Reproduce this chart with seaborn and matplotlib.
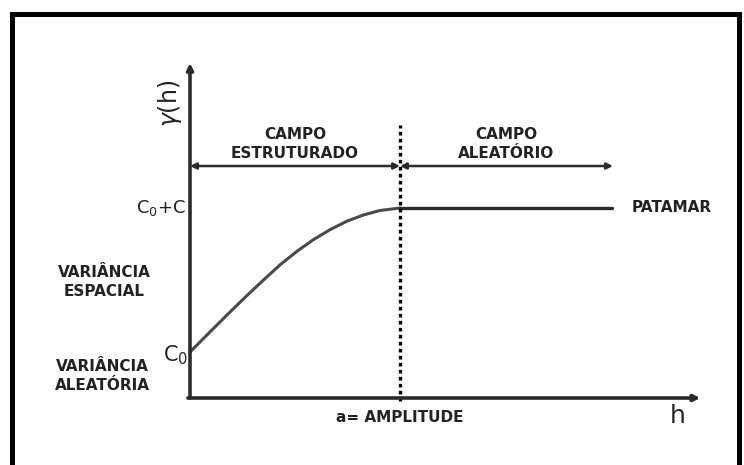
import numpy as np
import pandas as pd
import matplotlib
matplotlib.use("Agg")
import matplotlib.pyplot as plt
from matplotlib.lines import Line2D
import seaborn as sns

# ---- data (units: range a = 1, sill C0+C = 1) ----
lag = [0.0, 0.111, 0.190, 0.270, 0.349, 0.429, 0.508, 0.587, 0.667, 0.746, 0.825, 0.905, 1.0]
gamma = [0.242, 0.365, 0.452, 0.538, 0.620, 0.701, 0.771, 0.833, 0.886, 0.930, 0.963, 0.987, 1.0]
sill_lag = [1.0, 2.01]
sill_gamma = [1.0, 1.0]
nugget = 0.242
sill = 1.0
range_a = 1.0
x_axis_end = 2.43
y_axis_end = 1.763
field_level = 1.221
field_end = 2.014

# ---- layout helpers (pixel -> data) ----
def X(px):
    return (px - 190) / 210.0

def Y(py):
    return (398 - py) / 190.0

sns.set_theme(style="white")
plt.rcParams["font.family"] = ["DejaVu Sans"]

fig = plt.figure(figsize=(7.44, 4.65), dpi=100)
ax = fig.add_axes([0, 0, 1, 1])
ax.set_xlim(X(0), X(744))
ax.set_ylim(Y(465), Y(0))
ax.axis("off")

# frame
W, H = 744.0, 465.0
fig.add_artist(Line2D([11.5 / W, 11.5 / W, 738.5 / W, 738.5 / W],
                      [-0.05, 1 - 14.5 / H, 1 - 14.5 / H, -0.05],
                      color="black", lw=3.6, solid_joinstyle="miter",
                      transform=fig.transFigure))

dark = "#2b2b2b"

# axes with arrows
ax.annotate("", xy=(0, y_axis_end), xytext=(0, 0),
            arrowprops=dict(arrowstyle="-|>", lw=2.6, color=dark,
                            mutation_scale=9, shrinkA=0, shrinkB=0))
ax.annotate("", xy=(x_axis_end, 0), xytext=(-0.01, 0),
            arrowprops=dict(arrowstyle="-|>", lw=2.6, color=dark,
                            mutation_scale=9, shrinkA=0, shrinkB=0))

# variogram curve and sill
sns.lineplot(x=lag, y=gamma, ax=ax, color="#4a4a4a", lw=2.2, sort=False)
sns.lineplot(x=sill_lag, y=sill_gamma, ax=ax, color=dark, lw=2.4)

# range dotted line
ax.plot([range_a, range_a], [Y(401), Y(125)], color="black", lw=2.4,
        linestyle=(0, (1.1, 1.0)), solid_capstyle="butt")

# field arrows
ax.annotate("", xy=(0, field_level), xytext=(range_a, field_level),
            arrowprops=dict(arrowstyle="<|-|>", lw=1.8, color=dark,
                            mutation_scale=9, shrinkA=0, shrinkB=0))
ax.annotate("", xy=(field_end, field_level), xytext=(range_a, field_level),
            arrowprops=dict(arrowstyle="<|-|>", lw=1.8, color=dark,
                            mutation_scale=9, shrinkA=0, shrinkB=0))

tk = dict(color="#222222", fontweight="bold", fontsize=11)
ax.text(X(295), Y(144), "CAMPO\nESTRUTURADO", ha="center", va="center",
        linespacing=1.4, **tk)
ax.text(X(506), Y(144), "CAMPO\nALEATÓRIO", ha="center", va="center",
        linespacing=1.4, **tk)
ax.text(X(632), sill, "PATAMAR", ha="left", va="center", **tk)
ax.text(X(104), Y(282), "VARIÂNCIA\nESPACIAL", ha="center", va="center",
        linespacing=1.3, **tk)
ax.text(X(102), Y(376), "VARIÂNCIA\nALEATÓRIA", ha="center", va="center",
        linespacing=1.35, **tk)
ax.text(X(400), Y(417), "a= AMPLITUDE", ha="center", va="center", **tk)
ax.text(X(186), sill, r"C$_0$+C", ha="right", va="center",
        color="#222222", fontsize=13)
ax.text(X(188), Y(355), r"C$_0$", ha="right", va="center",
        color="#222222", fontsize=15)
ax.text(X(170), Y(103), r"$\gamma$(h)", ha="center", va="center",
        rotation=90, color="#222222", fontsize=17)
ax.text(X(678), Y(416), "h", ha="center", va="center",
        color="#222222", fontsize=18)

fig.savefig("out.png", dpi=100, facecolor="white")
